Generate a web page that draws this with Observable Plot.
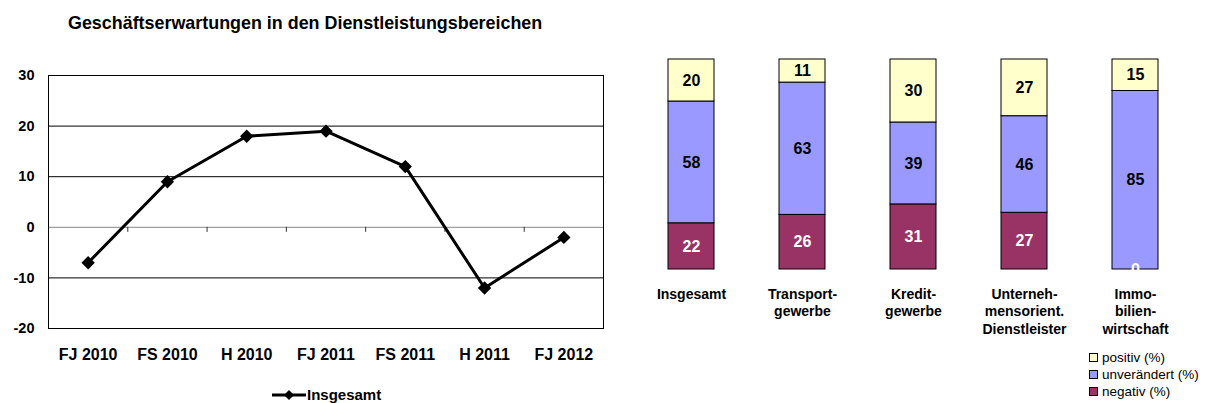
<!DOCTYPE html>
<html><head><meta charset="utf-8">
<script src="https://cdn.jsdelivr.net/npm/d3@7"></script>
<script src="https://cdn.jsdelivr.net/npm/@observablehq/plot@0.6"></script>
<style>
body{margin:0;background:#fff;font-family:"Liberation Sans",Arial,sans-serif;}
#root{position:relative;width:1206px;height:403px;overflow:hidden;background:#fff;}
.abs{position:absolute;}
.leg{display:flex;align-items:center;height:17px;font-size:13.5px;color:#000;}
.sw{width:7px;height:7px;border:1px solid #000;margin-right:4px;}
</style></head><body><div id="root">
<div class="abs" id="lineChart" style="left:0;top:0;"></div>
<div class="abs" style="left:68px;top:12px;font-weight:bold;font-size:17.9px;line-height:22px;">Geschäftserwartungen in den Dienstleistungsbereichen</div>
<div class="abs" style="left:272px;top:386px;display:flex;align-items:center;font-weight:bold;font-size:15px;line-height:18px;">
  <svg width="34" height="16"><line x1="0" y1="8" x2="34" y2="8" stroke="#000" stroke-width="3"/><path d="M17,3 L22,8 L17,13 L12,8Z" fill="#000"/></svg><span style="margin-left:1px">Insgesamt</span>
</div>
<div class="abs" id="barChart" style="left:600px;top:0;"></div>
<div class="abs" id="barLegend" style="left:1089px;top:349px;"></div>
</div>
<script>
// ---- Data ----
const periods = ["FJ 2010","FS 2010","H 2010","FJ 2011","FS 2011","H 2011","FJ 2012"];
const insgesamt = [-7, 9, 18, 19, 12, -12, -2];
const yTicks = [-20, -10, 0, 10, 20, 30];
const gridLines = [-10, 10, 20];

const branches = ["Insgesamt","Transport","Kredit","Unternehmen","Immobilien"];
const branchLabels = ["Insgesamt","Transport-\ngewerbe","Kredit-\ngewerbe","Unterneh-\nmensorient.\nDienstleister","Immo-\nbilien-\nwirtschaft"];
const negativ = [22, 26, 31, 27, 0];
const unveraendert = [58, 63, 39, 46, 85];
const positiv = [20, 11, 30, 27, 15];
const seriesNames = ["negativ","unverändert","positiv"];
const seriesColors = ["#993366","#9999FF","#FFFFCC"];
const legendLabels = ["positiv (%)","unverändert (%)","negativ (%)"];

const font = '"Liberation Sans", Arial, sans-serif';

// ---- Line chart ----
const pts = periods.map((p, i) => ({i, p, v: insgesamt[i]}));
const boundaries = d3.range(0.5, periods.length - 1, 1);
const line = Plot.plot({
  width: 615, height: 403,
  marginLeft: 48, marginRight: 12, marginTop: 75, marginBottom: 75,
  style: {fontFamily: font, fontSize: "14px", fontWeight: "bold", color: "#000", background: "transparent"},
  x: {domain: [-0.5, periods.length - 0.5], axis: null},
  y: {domain: [-20, 30], axis: null},
  marks: [
    Plot.ruleY(gridLines, {stroke: "#000", strokeWidth: 1}),
    Plot.ruleY([0], {stroke: "#888", strokeWidth: 1}),
    Plot.ruleX(boundaries, {y1: 0, y2: -1, stroke: "#333"}),
    Plot.frame({stroke: "#000", strokeWidth: 1}),
    Plot.axisY({ticks: yTicks, tickSize: 0, tickPadding: 14, tickFormat: d => String(d), label: null, fontSize: 14.5}),
    Plot.text(pts, {x: "i", text: "p", frameAnchor: "bottom", dy: 31, fontSize: 16, fill: "#000"}),
    Plot.line(pts, {x: "i", y: "v", stroke: "#000", strokeWidth: 3}),
    Plot.dot(pts, {x: "i", y: "v", symbol: "diamond2", r: 6, fill: "#000"})
  ]
});
document.getElementById("lineChart").append(line);

// ---- Stacked bars ----
const rows = [];
branches.forEach((b, i) => {
  rows.push({b, s: "negativ", v: negativ[i]});
  rows.push({b, s: "unverändert", v: unveraendert[i]});
  rows.push({b, s: "positiv", v: positiv[i]});
});
const bars = Plot.plot({
  width: 606, height: 345,
  marginLeft: 34.25, marginRight: 14.25, marginTop: 59, marginBottom: 76,
  style: {fontFamily: font, fontSize: "16px", fontWeight: "bold", color: "#000", background: "transparent"},
  x: {domain: branches, paddingInner: 0.587, paddingOuter: 0.2935, axis: null},
  y: {domain: [0, 100], axis: null},
  color: {domain: seriesNames, range: seriesColors},
  marks: [
    Plot.barY(rows, {x: "b", y: "v", fill: "s", stroke: "#000", strokeWidth: 1}),
    Plot.text(rows, Plot.stackY({x: "b", y: "v", text: d => d.s === "negativ" ? null : String(d.v), fill: "#000"})),
    Plot.text(rows, Plot.stackY({x: "b", y: "v", text: d => d.s === "negativ" ? String(d.v) : null, fill: "#fff"})),
    Plot.text(branches, {x: d => d, text: (d, i) => branchLabels[i], frameAnchor: "bottom", lineAnchor: "top", dy: 17, lineHeight: 1.25, fontSize: 14, fill: "#000"})
  ]
});
document.getElementById("barChart").append(bars);

// legend
const legendOrder = ["positiv","unverändert","negativ"];
const leg = document.getElementById("barLegend");
legendOrder.forEach((s, i) => {
  const row = document.createElement("div");
  row.className = "leg";
  const sw = document.createElement("div");
  sw.className = "sw";
  sw.style.background = seriesColors[seriesNames.indexOf(s)];
  const t = document.createElement("span");
  t.textContent = legendLabels[i];
  row.append(sw, t);
  leg.append(row);
});
</script>
</body></html>
